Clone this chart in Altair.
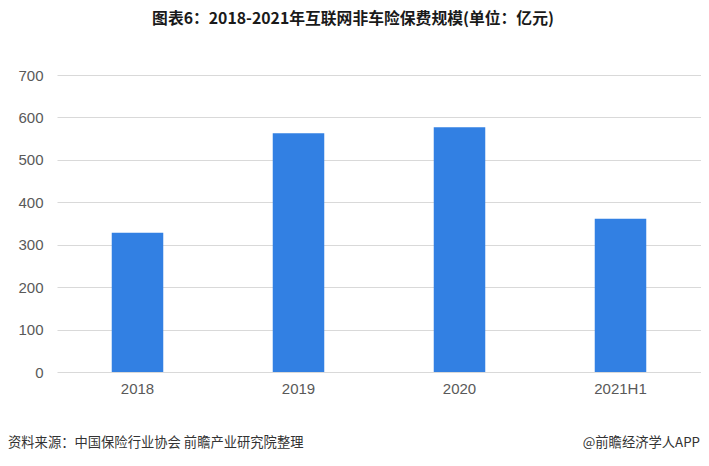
import altair as alt
import pandas as pd

categories = ["2018", "2019", "2020", "2021H1"]
values = [328, 563, 577, 361]
y_ticks = [0, 100, 200, 300, 400, 500, 600, 700]
title_text = "图表6：2018-2021年互联网非车险保费规模(单位：亿元)"
source_text = "资料来源：中国保险行业协会 前瞻产业研究院整理"
brand_text = "@前瞻经济学人APP"

df = pd.DataFrame({"year": categories, "value": values})

W, H = 644, 297

bars = alt.Chart(df).mark_bar(color="#3280E3").encode(
    x=alt.X("year:N", sort=categories, title=None,
            scale=alt.Scale(paddingInner=0.68, paddingOuter=0.34),
            axis=alt.Axis(labelAngle=0, labelFont="Liberation Sans", labelFontSize=15,
                          labelColor="#595959", ticks=False, domain=False,
                          labelPadding=9)),
    y=alt.Y("value:Q", title=None,
            scale=alt.Scale(domain=[0, 700], nice=False),
            axis=alt.Axis(values=y_ticks, labelFont="Liberation Sans", labelFontSize=15,
                          labelColor="#595959", ticks=False, domain=False,
                          gridColor="#D9D9D9", gridWidth=1, labelPadding=14)),
)

title = alt.Chart(pd.DataFrame({"t": [title_text]})).mark_text(
    font="Noto Sans CJK SC", fontSize=15.8, fontWeight="bold", color="#1a1a1a",
    align="center", baseline="middle"
).encode(text="t:N", x=alt.value(296), y=alt.value(-56))

source = alt.Chart(pd.DataFrame({"t": [source_text]})).mark_text(
    font="Noto Sans CJK SC", fontSize=13.3, color="#333333",
    align="left", baseline="middle"
).encode(text="t:N", x=alt.value(-49), y=alt.value(368))

brand = alt.Chart(pd.DataFrame({"t": [brand_text]})).mark_text(
    font="Noto Sans CJK SC", fontSize=13.3, color="#333333",
    align="right", baseline="middle"
).encode(text="t:N", x=alt.value(643), y=alt.value(368))

chart = alt.layer(bars, title, source, brand).properties(
    width=W, height=H,
    background="white",
    autosize=alt.AutoSizeParams(type="none"),
    padding={"left": 49, "top": 67, "right": 0, "bottom": 80},
).configure_view(stroke=None, strokeWidth=0)

chart.save("out.html", embed_options={"renderer": "svg", "actions": False})
